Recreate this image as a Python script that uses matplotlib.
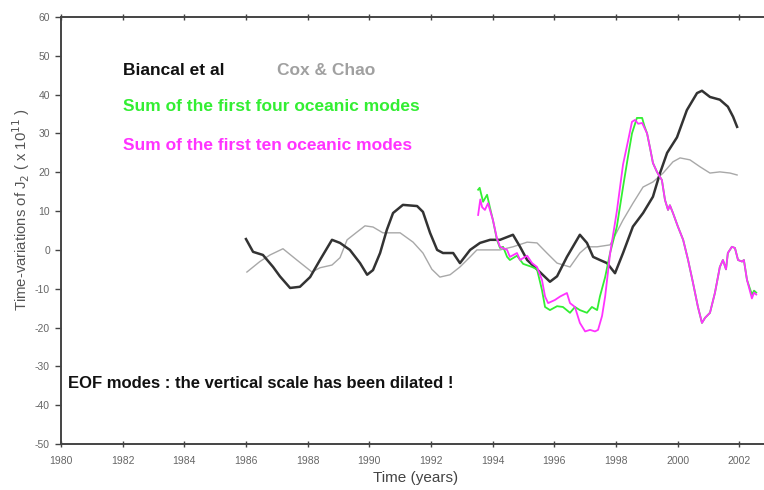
import matplotlib
matplotlib.use("Agg")
import matplotlib.pyplot as plt

plt.rcParams['font.family'] = ['Liberation Sans', 'DejaVu Sans']
plt.rcParams['axes.unicode_minus'] = False

# ---- data ----
biancal_t = [1986.00, 1986.23, 1986.55, 1986.88, 1987.10, 1987.43, 1987.75, 1988.08, 1988.40,
             1988.79, 1989.05, 1989.37, 1989.70, 1989.93, 1990.12, 1990.35, 1990.57, 1990.77,
             1991.09, 1991.55, 1991.74, 1991.97, 1992.20, 1992.39, 1992.72, 1992.94, 1993.27,
             1993.59, 1993.92, 1994.24, 1994.66, 1994.89, 1995.12, 1995.44, 1995.86, 1996.09,
             1996.41, 1996.83, 1997.06, 1997.26, 1997.48, 1997.71, 1997.97, 1998.23, 1998.55,
             1998.88, 1999.20, 1999.43, 1999.66, 1999.98, 2000.30, 2000.63, 2000.79, 2001.05,
             2001.37, 2001.63, 2001.80, 2001.93]
biancal_v = [2.8, -0.5, -1.3, -4.4, -6.8, -9.8, -9.5, -7.0, -2.6,
             2.6, 1.8, 0.0, -3.4, -6.4, -5.2, -0.8, 5.2, 9.5,
             11.6, 11.3, 9.8, 4.4, 0.0, -0.8, -0.8, -3.4, 0.0,
             1.8, 2.6, 2.6, 3.9, 0.8, -2.6, -5.0, -8.2, -6.8,
             -1.8, 3.9, 1.8, -1.8, -2.6, -3.4, -6.0, -0.8, 6.0,
             9.5, 13.7, 19.8, 25.0, 29.0, 36.0, 40.4, 41.0, 39.4,
             38.7, 36.9, 34.3, 31.7]

cox_t = [1986.03, 1986.45, 1986.78, 1987.20, 1987.65, 1988.14, 1988.40, 1988.79, 1989.05,
         1989.28, 1989.60, 1989.86, 1990.12, 1990.44, 1991.00, 1991.42, 1991.74, 1992.03,
         1992.29, 1992.62, 1992.94, 1993.27, 1993.49, 1993.82, 1994.24, 1994.66, 1995.12,
         1995.44, 1995.76, 1996.09, 1996.51, 1996.83, 1997.06, 1997.39, 1997.81, 1998.23,
         1998.55, 1998.88, 1999.20, 1999.53, 1999.85, 2000.08, 2000.40, 2000.73, 2001.05,
         2001.37, 2001.70, 2001.93]
cox_v = [-5.7, -3.0, -1.3, 0.3, -2.6, -5.7, -4.6, -3.9, -2.0,
         2.6, 4.6, 6.2, 5.9, 4.4, 4.4, 2.0, -0.8, -5.0,
         -7.0, -6.4, -4.4, -1.8, 0.0, 0.0, 0.0, 0.8, 2.0,
         1.8, -0.8, -3.4, -4.4, -0.8, 0.8, 0.8, 1.3, 7.7,
         12.0, 16.2, 17.5, 19.8, 22.7, 23.7, 23.2, 21.4, 19.8,
         20.1, 19.8, 19.3]

four_t = [1993.53, 1993.58, 1993.69, 1993.82, 1993.91, 1994.01, 1994.14, 1994.24, 1994.34,
          1994.47, 1994.56, 1994.79, 1994.99, 1995.28, 1995.44, 1995.60, 1995.70, 1995.86,
          1996.09, 1996.28, 1996.51, 1996.67, 1996.83, 1997.06, 1997.22, 1997.39, 1997.48,
          1997.65, 1997.81, 1998.03, 1998.23, 1998.39, 1998.52, 1998.68, 1998.85, 1998.92,
          1999.01, 1999.10, 1999.20, 1999.33, 1999.49, 1999.59, 1999.69, 1999.75, 1999.85,
          2000.01, 2000.18, 2000.34, 2000.50, 2000.66, 2000.79, 2000.89, 2001.05, 2001.21,
          2001.37, 2001.47, 2001.57, 2001.63, 2001.76, 2001.86, 2001.96, 2002.09, 2002.15,
          2002.25, 2002.41, 2002.48, 2002.55]
four_v = [15.5, 16.0, 12.4, 14.2, 11.0, 7.7, 2.6, 0.5, 0.8,
          -1.8, -2.6, -1.5, -3.6, -4.4, -5.0, -10.3, -14.7, -15.5,
          -14.5, -14.7, -16.2, -14.7, -15.5, -16.2, -14.7, -15.5, -12.0,
          -7.0, -0.8, 6.0, 16.2, 24.0, 30.0, 34.0, 34.0, 32.0,
          30.0, 26.5, 22.4, 20.1, 18.0, 12.9, 10.3, 11.5, 9.5,
          6.0, 2.6, -2.6, -8.5, -14.7, -18.8, -17.5, -16.2, -11.1,
          -4.4, -2.6, -5.0, -0.8, 0.8, 0.5, -2.6, -3.0, -2.6,
          -7.7, -11.5, -10.5, -11.0]

ten_t = [1993.53, 1993.60, 1993.66, 1993.75, 1993.85, 1994.01, 1994.14, 1994.24, 1994.47,
         1994.56, 1994.79, 1994.89, 1995.12, 1995.28, 1995.44, 1995.60, 1995.70, 1995.80,
         1996.02, 1996.19, 1996.41, 1996.51, 1996.67, 1996.83, 1997.00, 1997.16, 1997.32,
         1997.42, 1997.55, 1997.65, 1997.81, 1998.03, 1998.23, 1998.39, 1998.52, 1998.62,
         1998.72, 1998.85, 1999.01, 1999.10, 1999.20, 1999.33, 1999.49, 1999.59, 1999.69,
         1999.75, 1999.85, 2000.01, 2000.18, 2000.34, 2000.50, 2000.66, 2000.79, 2000.89,
         2001.05, 2001.21, 2001.37, 2001.47, 2001.57, 2001.63, 2001.76, 2001.86, 2001.96,
         2002.09, 2002.15, 2002.25, 2002.41, 2002.48, 2002.55]
ten_v = [9.0, 13.0, 11.0, 10.3, 12.0, 7.7, 3.0, 0.8, 0.0,
         -1.8, -0.8, -2.6, -1.5, -3.4, -4.4, -7.7, -12.0, -13.7,
         -12.9, -12.0, -11.1, -13.7, -14.7, -18.8, -21.0, -20.6, -21.0,
         -20.6, -17.0, -12.0, -1.0, 10.0, 22.0, 28.0, 33.0, 33.5,
         32.5, 32.7, 30.0, 26.5, 22.4, 20.1, 18.0, 12.9, 10.3,
         11.5, 9.5, 6.0, 2.6, -2.6, -8.5, -14.7, -18.8, -17.5,
         -16.2, -11.1, -4.4, -2.6, -5.0, -0.8, 0.8, 0.5, -2.6,
         -3.0, -2.6, -7.7, -12.5, -11.0, -11.5]

xticks = [1980, 1982, 1984, 1986, 1988, 1990, 1992, 1994, 1996, 1998, 2000, 2002]
yticks = [-50, -40, -30, -20, -10, 0, 10, 20, 30, 40, 50, 60]

# ---- figure ----
fig = plt.figure(figsize=(7.64, 4.90), dpi=100)
ax = fig.add_axes([61/764, 1 - 444/490, 1 - 61/764, (444 - 17)/490])

ax.plot(cox_t, cox_v, color='#a8a8a8', lw=1.0, zorder=2)
ax.plot(biancal_t, biancal_v, color='#333333', lw=1.8, zorder=3)
ax.plot(four_t, four_v, color='#33ee33', lw=1.3, zorder=4)
ax.plot(ten_t, ten_v, color='#ff33ff', lw=1.3, zorder=5)

ax.set_xlim(1980, 1980 + (764 - 61) / 30.83)
ax.set_ylim(-50, 60)
ax.set_xticks(xticks)
ax.set_yticks(yticks)

for s in ['left', 'bottom', 'top']:
    ax.spines[s].set_color('#444444')
    ax.spines[s].set_linewidth(1.4)
ax.spines['right'].set_visible(False)

ax.tick_params(axis='y', direction='out', length=4, width=1, colors='#444444',
               labelcolor='#666666', labelsize=7.5, pad=4)
ax.tick_params(axis='x', direction='inout', length=5, width=1, colors='#444444',
               labelcolor='#666666', labelsize=7.5, pad=6, top=True)
ax.tick_params(axis='x', which='major', top=True, labeltop=False)

fig.text(416/764, 1 - 478/490, 'Time (years)', ha='center', va='center',
         fontsize=11, color='#444444')
fig.text(21/764, 1 - 210/490, r'Time-variations of J$_2$ ( x 10$^{11}$ )',
         rotation=90, ha='center', va='center', fontsize=10.7, color='#555555')

ax.text(1982.0, 46.1, 'Biancal et al', fontsize=12.5, fontweight='bold',
        color='#111111', va='center', ha='left')
ax.text(1987.0, 46.1, 'Cox & Chao', fontsize=12.5, fontweight='bold',
        color='#a0a0a0', va='center', ha='left')
ax.text(1982.0, 36.9, 'Sum of the first four oceanic modes', fontsize=12.5,
        fontweight='bold', color='#33ee33', va='center', ha='left')
ax.text(1982.0, 26.8, 'Sum of the first ten oceanic modes', fontsize=12.5,
        fontweight='bold', color='#ff33ff', va='center', ha='left')
ax.text(1980.23, -34.3, 'EOF modes : the vertical scale has been dilated !',
        fontsize=12, fontweight='bold', color='#111111', va='center', ha='left')

fig.savefig('out.png', dpi=100)
